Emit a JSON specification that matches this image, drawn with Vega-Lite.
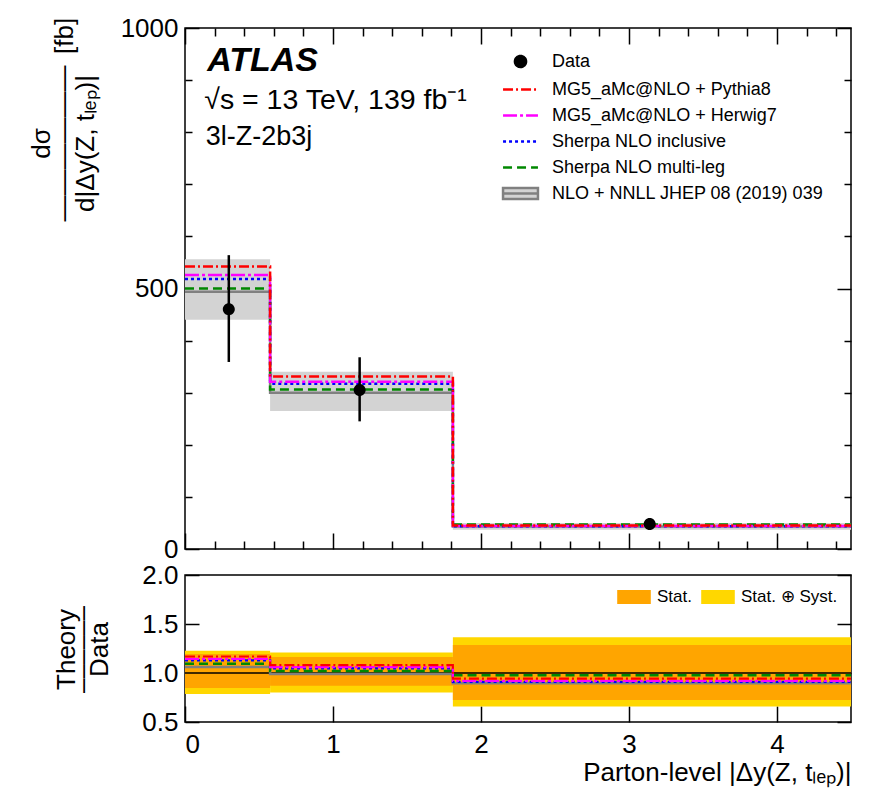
{
  "$schema": "https://vega.github.io/schema/vega-lite/v6.json",
  "padding": {"left": 27, "top": 14, "right": 5, "bottom": 5},
  "background": "white",
  "bounds": "flush",
  "spacing": 26,
  "config": {
    "font": "Liberation Sans",
    "view": {"stroke": "black", "strokeWidth": 1.5},
    "axis": {"domain": false, "grid": false, "tickColor": "black", "tickWidth": 1.5, "labelColor": "black", "titleColor": "black", "labelFont": "Liberation Sans", "titleFont": "Liberation Sans", "labelFontSize": 26, "titleFontSize": 26, "titleFontWeight": "normal"},
    "legend": {"labelFont": "Liberation Sans", "labelColor": "black"}
  },
  "datasets": {
    "band": [
      {"lo": 0, "hi": 0.575, "blo": 440, "bhi": 556},
      {"lo": 0.575, "hi": 1.81, "blo": 265, "bhi": 340},
      {"lo": 1.81, "hi": 4.5, "blo": 37, "bhi": 50}
    ],
    "hist": [
      {"series": "NLO + NNLL JHEP 08 (2019) 039", "lo": 0, "hi": 0.575, "v": 494},
      {"series": "NLO + NNLL JHEP 08 (2019) 039", "lo": 0.575, "hi": 1.81, "v": 300},
      {"series": "NLO + NNLL JHEP 08 (2019) 039", "lo": 1.81, "hi": 4.5, "v": 43},
      {"series": "Sherpa NLO multi-leg", "lo": 0, "hi": 0.575, "v": 500},
      {"series": "Sherpa NLO multi-leg", "lo": 0.575, "hi": 1.81, "v": 306},
      {"series": "Sherpa NLO multi-leg", "lo": 1.81, "hi": 4.5, "v": 47},
      {"series": "Sherpa NLO inclusive", "lo": 0, "hi": 0.575, "v": 518},
      {"series": "Sherpa NLO inclusive", "lo": 0.575, "hi": 1.81, "v": 317},
      {"series": "Sherpa NLO inclusive", "lo": 1.81, "hi": 4.5, "v": 43.7},
      {"series": "MG5_aMc@NLO + Herwig7", "lo": 0, "hi": 0.575, "v": 526},
      {"series": "MG5_aMc@NLO + Herwig7", "lo": 0.575, "hi": 1.81, "v": 321},
      {"series": "MG5_aMc@NLO + Herwig7", "lo": 1.81, "hi": 4.5, "v": 44.2},
      {"series": "MG5_aMc@NLO + Pythia8", "lo": 0, "hi": 0.575, "v": 542},
      {"series": "MG5_aMc@NLO + Pythia8", "lo": 0.575, "hi": 1.81, "v": 331},
      {"series": "MG5_aMc@NLO + Pythia8", "lo": 1.81, "hi": 4.5, "v": 45.3}
    ],
    "pts": [
      {"series": "Data", "x": 0.296, "v": 460, "lo": 359, "hi": 564},
      {"series": "Data", "x": 1.18, "v": 305, "lo": 245, "hi": 368},
      {"series": "Data", "x": 3.14, "v": 48, "lo": 37, "hi": 59}
    ],
    "ratio": [
      {"series": "NLO + NNLL JHEP 08 (2019) 039", "lo": 0, "hi": 0.575, "r": 1.06},
      {"series": "NLO + NNLL JHEP 08 (2019) 039", "lo": 0.575, "hi": 1.81, "r": 0.99},
      {"series": "NLO + NNLL JHEP 08 (2019) 039", "lo": 1.81, "hi": 4.5, "r": 0.896},
      {"series": "Sherpa NLO multi-leg", "lo": 0, "hi": 0.575, "r": 1.094},
      {"series": "Sherpa NLO multi-leg", "lo": 0.575, "hi": 1.81, "r": 1.02},
      {"series": "Sherpa NLO multi-leg", "lo": 1.81, "hi": 4.5, "r": 0.977},
      {"series": "Sherpa NLO inclusive", "lo": 0, "hi": 0.575, "r": 1.128},
      {"series": "Sherpa NLO inclusive", "lo": 0.575, "hi": 1.81, "r": 1.047},
      {"series": "Sherpa NLO inclusive", "lo": 1.81, "hi": 4.5, "r": 0.91},
      {"series": "MG5_aMc@NLO + Herwig7", "lo": 0, "hi": 0.575, "r": 1.144},
      {"series": "MG5_aMc@NLO + Herwig7", "lo": 0.575, "hi": 1.81, "r": 1.06},
      {"series": "MG5_aMc@NLO + Herwig7", "lo": 1.81, "hi": 4.5, "r": 0.92},
      {"series": "MG5_aMc@NLO + Pythia8", "lo": 0, "hi": 0.575, "r": 1.168},
      {"series": "MG5_aMc@NLO + Pythia8", "lo": 0.575, "hi": 1.81, "r": 1.08},
      {"series": "MG5_aMc@NLO + Pythia8", "lo": 1.81, "hi": 4.5, "r": 0.943}
    ],
    "unc": [
      {"unc": "Stat. ⊕ Syst.", "lo": 0, "hi": 0.575, "dlo": 0.785, "dhi": 1.228},
      {"unc": "Stat. ⊕ Syst.", "lo": 0.575, "hi": 1.81, "dlo": 0.802, "dhi": 1.208},
      {"unc": "Stat. ⊕ Syst.", "lo": 1.81, "hi": 4.5, "dlo": 0.658, "dhi": 1.366},
      {"unc": "Stat.", "lo": 0, "hi": 0.575, "dlo": 0.846, "dhi": 1.195},
      {"unc": "Stat.", "lo": 0.575, "hi": 1.81, "dlo": 0.869, "dhi": 1.164},
      {"unc": "Stat.", "lo": 1.81, "hi": 4.5, "dlo": 0.725, "dhi": 1.285}
    ]
  },
  "resolve": {
    "scale": {"color": "independent", "strokeDash": "independent", "shape": "independent", "fill": "independent", "strokeWidth": "independent"},
    "legend": {"color": "independent", "strokeDash": "independent", "shape": "independent", "fill": "independent", "strokeWidth": "independent"}
  },
  "vconcat": [
    {
      "width": 666,
      "height": 521,
      "resolve": {"axis": {"x": "independent", "y": "independent"}},
      "layer": [
        {
          "data": {"name": "band"},
          "mark": {"type": "rect", "color": "#d3d3d3"},
          "encoding": {
            "x": {"field": "lo", "type": "quantitative", "scale": {"domain": [0, 4.5], "nice": false, "zero": false},
              "axis": {"orient": "top", "values": [0,0.2,0.4,0.6,0.8,1,1.2,1.4,1.6,1.8,2,2.2,2.4,2.6,2.8,3,3.2,3.4,3.6,3.8,4,4.2,4.4], "labels": false, "title": null,
                "tickSize": {"condition": {"test": "abs(datum.value - round(datum.value)) < 0.001", "value": -16}, "value": -8}}},
            "x2": {"field": "hi"},
            "y": {"field": "blo", "type": "quantitative", "scale": {"domain": [0, 1000], "nice": false},
              "axis": {"orient": "right", "values": [0,100,200,300,400,500,600,700,800,900,1000], "labels": false, "title": null,
                "tickSize": {"condition": {"test": "datum.value % 500 === 0", "value": -14}, "value": -7}}},
            "y2": {"field": "bhi"}
          }
        },
        {
          "data": {"name": "hist"},
          "transform": [{"fold": ["lo", "hi"], "as": ["edge", "x"]}],
          "mark": {"type": "line", "strokeWidth": 2.5},
          "encoding": {
            "x": {"field": "x", "type": "quantitative",
              "axis": {"orient": "bottom", "values": [0,0.2,0.4,0.6,0.8,1,1.2,1.4,1.6,1.8,2,2.2,2.4,2.6,2.8,3,3.2,3.4,3.6,3.8,4,4.2,4.4], "labels": false, "title": null,
                "tickSize": {"condition": {"test": "abs(datum.value - round(datum.value)) < 0.001", "value": -16}, "value": -8}}},
            "y": {"field": "v", "type": "quantitative",
              "axis": {"orient": "left", "values": [0,100,200,300,400,500,600,700,800,900,1000], "format": "d",
                "labelExpr": "datum.value % 500 === 0 ? datum.label : ''", "labelPadding": 21,
                "tickSize": {"condition": {"test": "datum.value % 500 === 0", "value": -14}, "value": -7},
                "title": ["dσ", "——————", "d|Δy(Z, tₗₑₚ)|"], "titleLineHeight": 22, "titleY": 115, "titleX": -131}},
            "color": {"field": "series", "type": "nominal",
              "scale": {"domain": ["Data", "MG5_aMc@NLO + Pythia8", "MG5_aMc@NLO + Herwig7", "Sherpa NLO inclusive", "Sherpa NLO multi-leg", "NLO + NNLL JHEP 08 (2019) 039"],
                "range": ["#000000", "#ff0000", "#ff00ff", "#0000ff", "#008800", "#808080"]},
              "legend": {"title": null, "orient": "none", "legendX": 321, "legendY": 19, "padding": 0, "rowPadding": 2,
                "symbolSize": 700, "symbolStrokeWidth": 2.5, "labelFontSize": 18, "labelOffset": 17, "labelLimit": 400}},
            "strokeDash": {"field": "series", "type": "nominal",
              "scale": {"domain": ["Data", "MG5_aMc@NLO + Pythia8", "MG5_aMc@NLO + Herwig7", "Sherpa NLO inclusive", "Sherpa NLO multi-leg", "NLO + NNLL JHEP 08 (2019) 039"],
                "range": [[1, 0], [10, 3, 2, 3], [14, 3, 3, 3], [3, 3], [9, 5], [1, 0]]}},
            "order": [{"field": "x", "type": "quantitative"}, {"field": "edge", "type": "nominal"}]
          }
        },
        {
          "data": {"name": "pts"},
          "mark": {"type": "rule", "color": "black", "strokeWidth": 2.5},
          "encoding": {
            "x": {"field": "x", "type": "quantitative", "axis": null},
            "y": {"field": "lo", "type": "quantitative", "axis": null},
            "y2": {"field": "hi"}
          }
        },
        {
          "data": {"name": "pts"},
          "mark": {"type": "point", "filled": true, "size": 816, "opacity": 1},
          "encoding": {
            "x": {"field": "x", "type": "quantitative", "axis": null},
            "y": {"field": "v", "type": "quantitative", "axis": null},
            "fill": {"field": "series", "type": "nominal",
              "scale": {"domain": ["Data", "MG5_aMc@NLO + Pythia8", "MG5_aMc@NLO + Herwig7", "Sherpa NLO inclusive", "Sherpa NLO multi-leg", "NLO + NNLL JHEP 08 (2019) 039"],
                "range": ["#000000", "transparent", "transparent", "transparent", "transparent", "#d3d3d3"]}},
            "shape": {"field": "series", "type": "nominal",
              "scale": {"domain": ["Data", "MG5_aMc@NLO + Pythia8", "MG5_aMc@NLO + Herwig7", "Sherpa NLO inclusive", "Sherpa NLO multi-leg", "NLO + NNLL JHEP 08 (2019) 039"],
                "range": ["M0,-0.42L0,0.42M0.42,0A0.42,0.42,0,1,1,-0.42,0A0.42,0.42,0,1,1,0.42,0Z", "M-1.32,0L1.32,0", "M-1.32,0L1.32,0", "M-1.32,0L1.32,0", "M-1.32,0L1.32,0", "M-1.32,-0.42L1.32,-0.42L1.32,0.42L-1.32,0.42ZM-1.32,0L1.32,0"]}}
          }
        },
        {
          "data": {"values": [{}]},
          "mark": {"type": "text", "text": "ATLAS", "fontSize": 34, "fontWeight": "bold", "fontStyle": "italic", "align": "left", "baseline": "middle", "color": "black"},
          "encoding": {"x": {"datum": 0.15, "type": "quantitative", "axis": null}, "y": {"datum": 936, "type": "quantitative", "axis": null}}
        },
        {
          "data": {"values": [{}]},
          "mark": {"type": "text", "text": "√s = 13 TeV, 139 fb⁻¹", "fontSize": 28.5, "align": "left", "baseline": "middle", "color": "black"},
          "encoding": {"x": {"datum": 0.13, "type": "quantitative", "axis": null}, "y": {"datum": 861, "type": "quantitative", "axis": null}}
        },
        {
          "data": {"values": [{}]},
          "mark": {"type": "text", "text": "3l-Z-2b3j", "fontSize": 27, "align": "left", "baseline": "middle", "color": "black"},
          "encoding": {"x": {"datum": 0.14, "type": "quantitative", "axis": null}, "y": {"datum": 790, "type": "quantitative", "axis": null}}
        },
        {
          "data": {"values": [{}]},
          "mark": {"type": "text", "text": "[fb]", "fontSize": 26, "angle": 270, "align": "center", "baseline": "middle", "color": "black"},
          "encoding": {"x": {"datum": -0.81, "type": "quantitative", "axis": null}, "y": {"datum": 985, "type": "quantitative", "axis": null}}
        }
      ]
    },
    {
      "width": 666,
      "height": 147,
      "resolve": {"axis": {"x": "independent", "y": "independent"}},
      "layer": [
        {
          "data": {"name": "unc"},
          "mark": {"type": "rect"},
          "encoding": {
            "x": {"field": "lo", "type": "quantitative", "scale": {"domain": [0, 4.5], "nice": false, "zero": false},
              "axis": {"orient": "bottom", "values": [0, 1, 2, 3, 4], "tickSize": -16, "labelPadding": 25,
                "title": "Parton-level |Δy(Z, tₗₑₚ)|", "titleAnchor": "end", "titleAlign": "right", "titlePadding": 2}},
            "x2": {"field": "hi"},
            "y": {"field": "dlo", "type": "quantitative", "scale": {"domain": [0.5, 2.0], "nice": false, "zero": false},
              "axis": {"orient": "left", "values": [0.5, 1, 1.5, 2], "format": ".1f", "tickSize": -14, "labelPadding": 21,
                "title": ["Theory", "––––––", "Data"], "titleLineHeight": 16.5, "titleY": 74, "titleX": -106}},
            "y2": {"field": "dhi"},
            "fill": {"field": "unc", "type": "nominal",
              "scale": {"domain": ["Stat.", "Stat. ⊕ Syst."], "range": ["#ffa500", "#ffd700"]},
              "legend": {"title": null, "orient": "none", "legendX": 435, "legendY": 8, "direction": "horizontal", "padding": 0,
                "symbolType": "M-1.2,-0.5L1.2,-0.5L1.2,0.5L-1.2,0.5Z", "symbolSize": 784, "symbolStrokeWidth": 0,
                "labelFontSize": 17, "labelOffset": 9, "columnPadding": 9, "labelLimit": 300}}
          }
        },
        {
          "data": {"values": [{}]},
          "mark": {"type": "rule", "color": "black", "strokeWidth": 1.5},
          "encoding": {"y": {"datum": 1, "type": "quantitative", "axis": null}}
        },
        {
          "data": {"name": "ratio"},
          "transform": [{"fold": ["lo", "hi"], "as": ["edge", "x"]}],
          "mark": {"type": "line"},
          "encoding": {
            "x": {"field": "x", "type": "quantitative", "axis": null},
            "y": {"field": "r", "type": "quantitative",
              "axis": {"orient": "right", "values": [0.5, 1, 1.5, 2], "labels": false, "title": null, "tickSize": -14}},
            "color": {"field": "series", "type": "nominal",
              "scale": {"domain": ["Data", "MG5_aMc@NLO + Pythia8", "MG5_aMc@NLO + Herwig7", "Sherpa NLO inclusive", "Sherpa NLO multi-leg", "NLO + NNLL JHEP 08 (2019) 039"],
                "range": ["#000000", "#ff0000", "#ff00ff", "#0000ff", "#008800", "#808080"]}, "legend": null},
            "strokeDash": {"field": "series", "type": "nominal",
              "scale": {"domain": ["Data", "MG5_aMc@NLO + Pythia8", "MG5_aMc@NLO + Herwig7", "Sherpa NLO inclusive", "Sherpa NLO multi-leg", "NLO + NNLL JHEP 08 (2019) 039"],
                "range": [[1, 0], [10, 3, 2, 3], [14, 3, 3, 3], [3, 3], [9, 5], [1, 0]]}, "legend": null},
            "strokeWidth": {"field": "series", "type": "nominal",
              "scale": {"domain": ["Data", "MG5_aMc@NLO + Pythia8", "MG5_aMc@NLO + Herwig7", "Sherpa NLO inclusive", "Sherpa NLO multi-leg", "NLO + NNLL JHEP 08 (2019) 039"],
                "range": [2, 2.5, 2.5, 2.5, 2.5, 4]}, "legend": null},
            "order": [{"field": "x", "type": "quantitative"}, {"field": "edge", "type": "nominal"}]
          }
        }
      ]
    }
  ]
}
